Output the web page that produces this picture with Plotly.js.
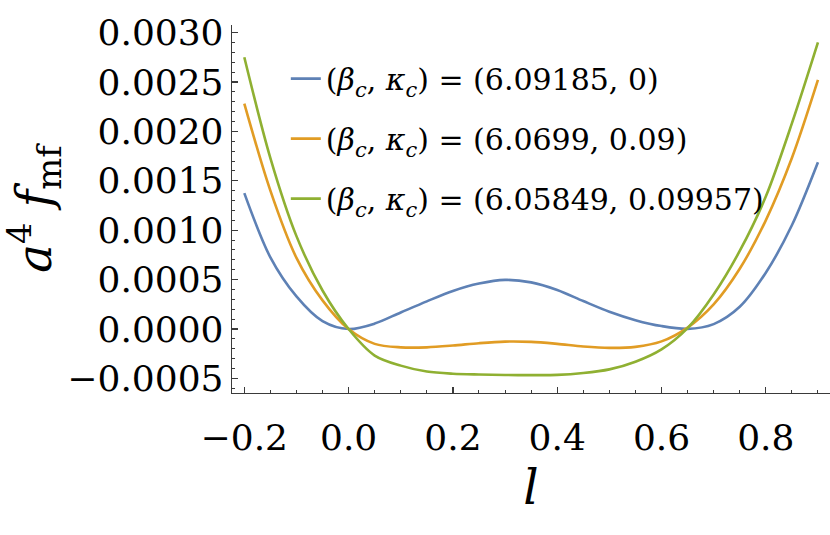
<!DOCTYPE html>
<html>
<head>
<meta charset="utf-8">
<script src="https://cdn.plot.ly/plotly-3.0.1.min.js"></script>
<style>
  html, body { margin: 0; padding: 0; background: #fff; }
  #myDiv { width: 830px; height: 535px; }
</style>
</head>
<body>
<div id="myDiv"></div>
<script>
// l grid and mean-field free energy a^4 f_mf
var lValues = [-0.2, -0.15, -0.1, -0.05, 0, 0.05, 0.1, 0.15, 0.2, 0.25, 0.3, 0.35,
               0.4, 0.45, 0.5, 0.55, 0.6, 0.65, 0.7, 0.75, 0.8, 0.85, 0.9];

var fBlue = [0.001375, 0.000725, 0.00033, 0.00008, 0.0, 0.000055, 0.000168, 0.00028,
             0.000385, 0.00046, 0.000497, 0.000472, 0.000395, 0.000283, 0.000175, 0.00009,
             0.00003, 0.000002, 0.00005, 0.000225, 0.00057, 0.00105, 0.001688];

var fOrange = [0.00228, 0.0014, 0.00072, 0.00029, 0.0, -0.00015, -0.000185, -0.000185,
               -0.000167, -0.000143, -0.000127, -0.00013, -0.00015, -0.000176, -0.00019, -0.00018,
               -0.000125, 0.000015, 0.00025, 0.00061, 0.0011, 0.00173, 0.00252];

var fGreen = [0.00275, 0.00173, 0.00094, 0.00039, 0.0, -0.000268, -0.00037, -0.00043,
              -0.000452, -0.00046, -0.000465, -0.000466, -0.000464, -0.000445, -0.000408, -0.00033,
              -0.000205, 0.00001, 0.00035, 0.00079, 0.00134, 0.00208, 0.0029];

var names = [
    '(<i>β</i><sub><i>c</i></sub>, <i>κ</i><sub><i>c</i></sub>) = (6.09185, 0)',
    '(<i>β</i><sub><i>c</i></sub>, <i>κ</i><sub><i>c</i></sub>) = (6.0699, 0.09)',
    '(<i>β</i><sub><i>c</i></sub>, <i>κ</i><sub><i>c</i></sub>) = (6.05849, 0.09957)'
];
var colors = ['#5E81B5', '#E19C24', '#8FB032'];
var series = [fBlue, fOrange, fGreen];

var data = series.map(function(ys, i) {
    return {
        x: lValues,
        y: ys,
        mode: 'lines',
        line: { color: colors[i], width: 2.6, shape: 'spline', smoothing: 0.9 },
        name: names[i],
        legendgroup: 'g' + i
    };
});

var serif = 'DejaVu Serif';
var axisColor = '#3a3a3a';

var layout = {
    width: 830,
    height: 535,
    margin: { l: 232, r: 0, t: 25, b: 142 },
    paper_bgcolor: '#fff',
    plot_bgcolor: '#fff',
    font: { family: serif, color: '#000' },
    showlegend: true,
    legend: {
        x: 0.09, y: 0.925, xanchor: 'left', yanchor: 'top',
        bgcolor: 'rgba(0,0,0,0)',
        font: { family: serif, size: 30, color: '#000' },
        tracegroupgap: 18
    },
    xaxis: {
        range: [-0.2236, 0.9231],
        showgrid: false, zeroline: false,
        showline: true, linecolor: axisColor, linewidth: 1.3,
        ticks: 'inside', ticklen: 6, tickwidth: 1.2, tickcolor: axisColor,
        tickvals: [-0.2, 0, 0.2, 0.4, 0.6, 0.8],
        tickformat: '.1f',
        tickfont: { family: serif, size: 36, color: '#000' },
        minor: { dtick: 0.05, ticks: 'inside', ticklen: 3, tickwidth: 1, tickcolor: axisColor },
        ticklabelstandoff: 12,
        title: { text: '<i>l</i>', font: { family: serif, size: 48, color: '#000' }, standoff: 14 }
    },
    yaxis: {
        range: [-0.000647, 0.003076],
        showgrid: false, zeroline: false,
        showline: true, linecolor: axisColor, linewidth: 1.3,
        ticks: 'inside', ticklen: 6, tickwidth: 1.2, tickcolor: axisColor,
        tickvals: [-0.0005, 0, 0.0005, 0.001, 0.0015, 0.002, 0.0025, 0.003],
        tickformat: '.4f',
        tickfont: { family: serif, size: 36, color: '#000' },
        minor: { dtick: 0.0001, ticks: 'inside', ticklen: 3, tickwidth: 1, tickcolor: axisColor },
        title: { text: '<i>a</i><sup>4</sup> <i>f</i><sub>mf</sub>', font: { family: serif, size: 48, color: '#000' }, standoff: 14 }
    }
};

Plotly.newPlot('myDiv', data, layout, { displayModeBar: false, staticPlot: true });
</script>
</body>
</html>
